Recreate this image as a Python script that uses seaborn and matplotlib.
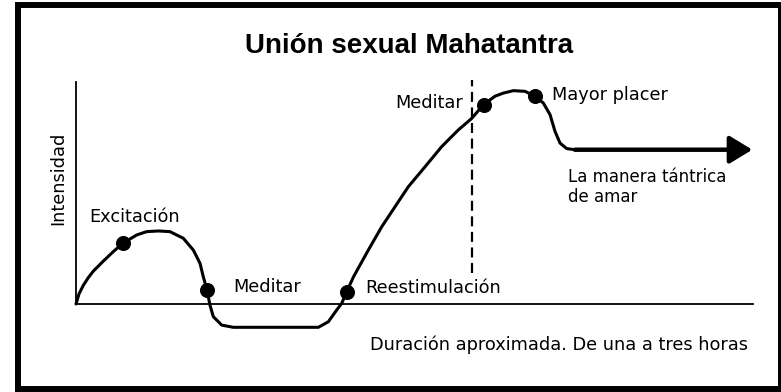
import matplotlib
matplotlib.use("Agg")
import matplotlib.pyplot as plt
from matplotlib.patches import Rectangle
import seaborn as sns

# ---- data (x: duration units 0-100, y: intensity units) ----
curve_x = [0.0, 0.45, 1.08, 1.8, 2.56, 4.03, 5.51, 6.9, 8.97, 10.44, 12.2, 13.88, 15.85,
           17.33, 18.32, 18.8, 19.35, 19.79, 20.28, 21.52, 23.23, 35.79, 37.27,
           38.51, 39.25, 39.96, 41.0, 43.18, 45.16, 47.12, 49.08, 51.55, 54.02,
           56.47, 58.45, 60.2, 61.89, 63.12, 64.6, 66.32, 67.8, 69.03, 70.02,
           70.75, 71.49, 72.48, 73.7]
curve_y = [0.0, 4.6, 8.4, 11.8, 14.8, 19.3, 23.6, 27.3, 31.1, 32.6, 32.9, 32.6, 29.6,
           24.3, 18.3, 12.3, 6.3, -0.5, -5.7, -9.5, -10.5, -10.5, -8.0,
           -2.7, 0.3, 5.4, 12.3, 24.3, 34.8, 43.8, 52.8, 61.8, 70.9,
           78.4, 83.6, 89.8, 93.6, 95.0, 96.1, 95.8, 93.6, 90.5, 85.3,
           77.8, 72.5, 70.0, 69.5]
dot_x = [6.9, 19.35, 39.96, 60.2, 67.8]
dot_y = [27.3, 6.3, 5.4, 89.8, 93.6]
arrow_x = [73.7, 99.9]
arrow_y = [69.5, 69.5]
marker_line_x = 58.5
marker_line_y = [14.0, 100.9]

title = "Unión sexual Mahatantra"
y_label = "Intensidad"
x_label = "Duración aproximada. De una a tres horas"
labels = ["Excitación", "Meditar", "Reestimulación", "Meditar", "Mayor placer",
          "La manera tántrica", "de amar"]

sns.set_theme(style="white")
plt.rcParams['font.family'] = ['DejaVu Sans']

W, H = 781, 392
fig = plt.figure(figsize=(W / 100, H / 100), dpi=100)
fig.patch.set_facecolor("white")

ax = fig.add_axes([76 / W, 54.7 / H, 677 / W, 255.3 / H])
ax.set_xlim(0, 100)
ax.set_ylim(-15, 100)
ax.set_facecolor("none")

sns.lineplot(x=curve_x, y=curve_y, sort=False, estimator=None, color="black",
             lw=2.2, ax=ax, clip_on=False, zorder=3)
ax.lines[-1].set_solid_joinstyle("round")
sns.scatterplot(x=dot_x, y=dot_y, color="black", edgecolor="black", s=100,
                ax=ax, clip_on=False, zorder=4)
ax.annotate("", xy=(arrow_x[1], arrow_y[1]), xytext=(arrow_x[0], arrow_y[0]),
            arrowprops=dict(arrowstyle="-|>,head_length=1.15,head_width=0.7",
                            mutation_scale=12, lw=3.2, color="black",
                            shrinkA=0, shrinkB=0),
            annotation_clip=False)
ax.plot([marker_line_x, marker_line_x], marker_line_y, color="black", lw=1.6,
        dashes=(4.5, 2.5), clip_on=False)

for s in ["top", "right"]:
    ax.spines[s].set_visible(False)
ax.spines["bottom"].set_position(("data", 0))
ax.spines["left"].set_bounds(0, 100)
ax.spines["bottom"].set_bounds(0, 100)
for s in ["left", "bottom"]:
    ax.spines[s].set_color("black")
    ax.spines[s].set_linewidth(1.3)
ax.set_xticks([])
ax.set_yticks([])
ax.set_xlabel("")
ax.set_ylabel("")

fs = 12.8
tk = dict(color="black", va="baseline", clip_on=False)
ax.text(1.9, 36.9, labels[0], ha="left", fontsize=fs, **tk)
ax.text(23.2, 5.4, labels[1], ha="left", fontsize=fs, **tk)
ax.text(42.7, 5.0, labels[2], ha="left", fontsize=fs, **tk)
ax.text(57.2, 88.3, labels[3], ha="right", fontsize=fs, **tk)
ax.text(70.3, 91.9, labels[4], ha="left", fontsize=fs, **tk)
ax.text(72.6, 55.0, labels[5], ha="left", fontsize=12, **tk)
ax.text(72.6, 46.0, labels[6], ha="left", fontsize=12, **tk)
ax.text(99.3, -20.7, x_label, ha="right", fontsize=fs, **tk)
ax.text(-2.66, 56.8, y_label, ha="center", va="center", rotation=90,
        fontsize=fs, color="black", clip_on=False)

fig.text(409 / W, 1 - 53 / H, title, ha="center", va="baseline",
         family=["Liberation Sans", "DejaVu Sans"], weight="bold", fontsize=20,
         color="black")

fig.patches.append(Rectangle((18 / W, 3 / H), (W - 18) / W, (H - 8) / H,
                             transform=fig.transFigure, fill=False,
                             edgecolor="black", lw=4.3, zorder=10))

fig.savefig("out.png", dpi=100, facecolor="white")
